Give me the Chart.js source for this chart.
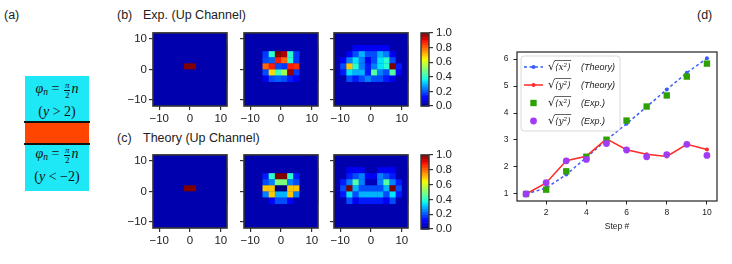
<!DOCTYPE html>
<html>
<head>
<meta charset="utf-8">
<script src="https://cdn.jsdelivr.net/npm/chart.js@4.4.1/dist/chart.umd.min.js"></script>
<style>
  body { margin: 0; background: #fff; }
  #fig { position: relative; width: 732px; height: 264px; overflow: hidden;
         font-family: "Liberation Sans", Arial, sans-serif; color: #222; }
  canvas { position: absolute; }
  .lbl { position: absolute; font-size: 12.5px; white-space: nowrap; line-height: 14px; }
  .cyan { position: absolute; left: 25px; width: 64px; background: #1fe8f6; }
  .bar { position: absolute; left: 24px; width: 66px; height: 2px; background: #111; }
  .eq { position: absolute; left: 0; width: 64px; text-align: center; white-space: nowrap;
        font-family: "Liberation Serif", "DejaVu Serif", serif; font-size: 14px; color: #111; line-height: 16px; }
  .eq sub { font-size: 9.5px; vertical-align: -2px; font-style: italic; }
  .frac { display: inline-block; vertical-align: middle; text-align: center; font-size: 9px; line-height: 8.5px; margin: 0 1px; }
  .frac span { display: block; }
  .frac span:first-child { border-bottom: 0.8px solid #111; padding: 0 1px; font-style: italic; }
</style>
</head>
<body>
<div id="fig">
  <!-- panel (a): schematic -->
  <div class="lbl" style="left:4px;top:8px">(a)</div>
  <div class="cyan" style="top:76px;height:46px">
    <div class="eq" style="top:5px"><i>φ</i><sub>n</sub> = <span class="frac"><span>π</span><span>2</span></span><i>n</i></div>
    <div class="eq" style="top:28px">(<i>y</i> &gt; 2)</div>
  </div>
  <div class="bar" style="top:121px"></div>
  <div style="position:absolute;left:25px;top:123px;width:64px;height:20px;background:#ff4500"></div>
  <div class="bar" style="top:143px"></div>
  <div class="cyan" style="top:145px;height:46px">
    <div class="eq" style="top:1px"><i>φ</i><sub>n</sub> = <span class="frac"><span>π</span><span>2</span></span><i>n</i></div>
    <div class="eq" style="top:24px">(<i>y</i> &lt; −2)</div>
  </div>

  <div class="lbl" style="left:117px;top:8px">(b)</div>
  <div class="lbl" style="left:143px;top:8px">Exp. (Up Channel)</div>
  <div class="lbl" style="left:117px;top:131px">(c)</div>
  <div class="lbl" style="left:143px;top:131px">Theory (Up Channel)</div>
  <div class="lbl" style="left:697px;top:8px">(d)</div>

  <canvas id="b1"></canvas><canvas id="b2"></canvas><canvas id="b3"></canvas><canvas id="bc"></canvas>
  <canvas id="c1"></canvas><canvas id="c2"></canvas><canvas id="c3"></canvas><canvas id="cc"></canvas>
  <canvas id="d"></canvas>
</div>

<script>
// ---- heatmap lattice (cells are 2x2 units, centres on odd coordinates) ----
const colsX = [-11, -9, -7, -5, -3, -1, 1, 3, 5, 7, 9, 11];
const rowsY = [7, 5, 3, 1, -1, -3];
const heatTicks = [-10, 0, 10];
const bgLevel = 0.04; // level of the empty lattice

// probability maps, one row per rowsY entry, one value per colsX entry
const expStep1 = [
  [.04, .04, .04, .04, .04, .04, .04, .04, .04, .04, .04, .04],
  [.04, .04, .04, .04, .04, .04, .04, .04, .04, .04, .04, .04],
  [.04, .04, .04, .04, .04, .04, .04, .04, .04, .04, .04, .04],
  [.04, .04, .04, .04, .04, 1.0, 1.0, .04, .04, .04, .04, .04],
  [.04, .04, .04, .04, .04, .04, .04, .04, .04, .04, .04, .04],
  [.04, .04, .04, .04, .04, .04, .04, .04, .04, .04, .04, .04]
];
const expStep2 = [
  [.04, .04, .04, .04, .04, .04, .04, .04, .04, .04, .04, .04],
  [.04, .04, .04, .18, .40, 1.0, .96, .40, .18, .04, .04, .04],
  [.04, .04, .04, .20, .22, .88, .80, .40, .18, .04, .04, .04],
  [.04, .04, .04, .80, .88, .20, .18, .88, .86, .04, .04, .04],
  [.04, .04, .04, .20, .68, .42, .55, .98, .18, .04, .04, .04],
  [.04, .04, .04, .10, .20, .22, .20, .15, .10, .04, .04, .04]
];
const expStep3 = [
  [.04, .04, .04, .10, .10, .10, .10, .10, .10, .04, .04, .04],
  [.04, .04, .12, .20, .30, .20, .20, .30, .25, .10, .04, .04],
  [.04, .12, .25, .35, .25, .10, .20, .35, .40, .20, .04, .04],
  [.04, .20, .70, .40, .25, .15, .25, .35, .40, 1.0, .15, .04],
  [.04, .15, .35, .30, .30, .15, .45, .25, .20, .45, .10, .04],
  [.04, .04, .20, .15, .20, .25, .20, .20, .15, .10, .04, .04]
];
const theoryStep1 = expStep1;
const theoryStep2 = [
  [.04, .04, .04, .04, .04, .04, .04, .04, .04, .04, .04, .04],
  [.04, .04, .04, .15, .40, 1.0, 1.0, .40, .15, .04, .04, .04],
  [.04, .04, .04, .20, .25, .50, .50, .25, .20, .04, .04, .04],
  [.04, .04, .04, .70, .70, 0.0, 0.0, .70, .70, .04, .04, .04],
  [.04, .04, .04, .25, .70, .30, .30, .70, .25, .04, .04, .04],
  [.04, .04, .04, .04, .12, .20, .20, .12, .04, .04, .04, .04]
];
const theoryStep3 = [
  [.04, .04, .10, .10, .10, .04, .04, .10, .10, .10, .04, .04],
  [.04, .04, .15, .20, .25, .10, .10, .25, .20, .15, .04, .04],
  [.04, .15, .25, .45, .25, .05, .05, .25, .45, .25, .15, .04],
  [.04, .20, 1.0, .30, .20, .20, .20, .20, .30, 1.0, .20, .04],
  [.04, .15, .35, .20, .30, .30, .30, .30, .20, .35, .15, .04],
  [.04, .04, .20, .10, .15, .15, .15, .15, .10, .20, .04, .04]
];
const cbarTicks = [0, 0.2, 0.4, 0.6, 0.8, 1.0];

// ---- panel (d) ----
const stepNo = [1, 2, 3, 4, 5, 6, 7, 8, 9, 10];
const theoryX = [1.0, 1.22, 1.72, 2.35, 3.0, 3.6, 4.23, 4.87, 5.49, 6.03];
const theoryY = [1.0, 1.41, 2.23, 2.40, 3.04, 2.64, 2.47, 2.39, 2.84, 2.65];
const measX = [1.0, 1.16, 1.84, 2.38, 3.01, 3.72, 4.24, 4.65, 5.35, 5.83];
const measY = [1.0, 1.42, 2.23, 2.28, 2.87, 2.63, 2.38, 2.46, 2.84, 2.43];
const stepTicks = [2, 4, 6, 8, 10];
const rmsTicks = [1, 2, 3, 4, 5, 6];

// matplotlib "jet"
const JR = [[0, 0], [0.35, 0], [0.66, 1], [0.89, 1], [1, 0.5]];
const JG = [[0, 0], [0.125, 0], [0.375, 1], [0.64, 1], [0.91, 0], [1, 0]];
const JB = [[0, 0.5], [0.11, 1], [0.34, 1], [0.65, 0], [1, 0]];
function seg(pts, v) {
  for (let i = 1; i < pts.length; i++) {
    if (v <= pts[i][0]) {
      const [x0, y0] = pts[i - 1], [x1, y1] = pts[i];
      return y0 + (y1 - y0) * (v - x0) / (x1 - x0);
    }
  }
  return pts[pts.length - 1][1];
}
function jet(v) {
  v = Math.max(0, Math.min(1, v));
  return `rgb(${Math.round(255 * seg(JR, v))},${Math.round(255 * seg(JG, v))},${Math.round(255 * seg(JB, v))})`;
}

const FONT = "'Liberation Sans', Arial, sans-serif";
const AX = '#333';

const heatPlugin = {
  id: 'heat',
  beforeDatasetsDraw(chart, args, opts) {
    const { ctx, chartArea: a, scales: { x, y } } = chart;
    ctx.save();
    ctx.fillStyle = jet(bgLevel);
    ctx.fillRect(a.left, a.top, a.width, a.height);
    opts.matrix.forEach((row, r) => row.forEach((v, c) => {
      const x0 = x.getPixelForValue(colsX[c] - 1), x1 = x.getPixelForValue(colsX[c] + 1);
      const y0 = y.getPixelForValue(rowsY[r] + 1), y1 = y.getPixelForValue(rowsY[r] - 1);
      ctx.fillStyle = jet(v);
      ctx.fillRect(x0, y0, x1 - x0 + 0.3, y1 - y0 + 0.3);
    }));
    ctx.restore();
  },
  afterDraw(chart) {
    const { ctx, chartArea: a } = chart;
    ctx.save();
    ctx.strokeStyle = AX;
    ctx.lineWidth = 1.6;
    ctx.strokeRect(a.left, a.top, a.width, a.height);
    ctx.restore();
  }
};

function placeCanvas(id, left, top, w, h) {
  const cv = document.getElementById(id);
  cv.width = w; cv.height = h;
  cv.style.left = left + 'px'; cv.style.top = top + 'px';
  cv.style.width = w + 'px'; cv.style.height = h + 'px';
  return cv;
}

function heatmap(id, matrix, plotLeft, plotTop, showY) {
  const cv = placeCanvas(id, plotLeft - 33, plotTop - 8, 113, 104);
  const tickFont = { family: FONT, size: 11.5 };
  new Chart(cv, {
    type: 'scatter',
    data: { datasets: [{ data: [] }] },
    options: {
      responsive: false, animation: false, events: [],
      layout: { padding: { left: 0, top: 8, right: 6, bottom: 0 } },
      plugins: { legend: { display: false }, tooltip: { enabled: false }, heat: { matrix } },
      scales: {
        x: {
          min: -12, max: 12,
          afterBuildTicks: s => { s.ticks = heatTicks.map(v => ({ value: v })); },
          afterFit: s => { s.height = 22; },
          grid: { drawOnChartArea: false, color: AX, tickLength: 4, lineWidth: 1.2 },
          border: { display: false },
          ticks: { font: tickFont, color: '#222', padding: 2, maxRotation: 0, autoSkip: false,
                   callback: v => String(v).replace('-', '−') }
        },
        y: {
          min: -12, max: 12,
          afterBuildTicks: s => { s.ticks = heatTicks.map(v => ({ value: v })); },
          afterFit: s => { s.width = 33; },
          grid: { drawOnChartArea: false, color: AX, tickLength: 4, lineWidth: 1.2 },
          border: { display: false },
          ticks: { font: tickFont, color: '#222', padding: 2, autoSkip: false,
                   callback: v => showY ? String(v).replace('-', '−') : '' }
        }
      }
    },
    plugins: [heatPlugin]
  });
}

const cbarPlugin = {
  id: 'cbar',
  beforeDatasetsDraw(chart) {
    const { ctx, chartArea: a, scales: { y } } = chart;
    ctx.save();
    const n = 100;
    for (let i = 0; i < n; i++) {
      const v0 = i / n, v1 = (i + 1) / n;
      const p0 = y.getPixelForValue(v0), p1 = y.getPixelForValue(v1);
      ctx.fillStyle = jet((v0 + v1) / 2);
      ctx.fillRect(a.left, p1, a.width, p0 - p1 + 0.5);
    }
    ctx.strokeStyle = AX;
    ctx.lineWidth = 1.4;
    ctx.strokeRect(a.left, a.top, a.width, a.height);
    ctx.restore();
  }
};

function colorbar(id, plotTop, plotBottom) {
  const h = plotBottom - plotTop;
  const cv = placeCanvas(id, 415, plotTop - 8, 55, h + 18);
  new Chart(cv, {
    type: 'scatter',
    data: { datasets: [{ data: [] }] },
    options: {
      responsive: false, animation: false, events: [],
      layout: { padding: { left: 6, top: 8, right: 0, bottom: 10 } },
      plugins: { legend: { display: false }, tooltip: { enabled: false } },
      scales: {
        x: { display: false, min: 0, max: 1 },
        y: {
          position: 'right', min: 0, max: 1,
          afterBuildTicks: s => { s.ticks = cbarTicks.map(v => ({ value: v })); },
          afterFit: s => { s.width = 41; },
          grid: { drawOnChartArea: false, color: AX, tickLength: 4, lineWidth: 1.2 },
          border: { display: false },
          ticks: { font: { family: FONT, size: 11.5 }, color: '#222', padding: 3, autoSkip: false,
                   callback: v => v.toFixed(1) }
        }
      }
    },
    plugins: [cbarPlugin]
  });
}

heatmap('b1', expStep1, 153, 32, true);
heatmap('b2', expStep2, 244, 32, false);
heatmap('b3', expStep3, 334, 32, false);
colorbar('bc', 31, 106);
heatmap('c1', theoryStep1, 153, 154, true);
heatmap('c2', theoryStep2, 244, 154, false);
heatmap('c3', theoryStep3, 334, 154, false);
colorbar('cc', 153, 229);

// ---- panel (d) ----
const legendLabels = [
  ['x', '(Theory)'], ['y', '(Theory)'], ['x', '(Exp.)'], ['y', '(Exp.)']
];

const frameAndLegend = {
  id: 'frameAndLegend',
  afterDraw(chart) {
    const { ctx, chartArea: a } = chart;
    ctx.save();
    ctx.strokeStyle = '#222';
    ctx.lineWidth = 1.2;
    ctx.strokeRect(a.left, a.top, a.width, a.height);

    const bx = a.left + 4, by = a.top + 4, bw = 99, bh = 75;
    ctx.beginPath();
    ctx.roundRect(bx, by, bw, bh, 3);
    ctx.fillStyle = 'rgba(255,255,255,0.85)';
    ctx.fill();
    ctx.strokeStyle = '#d0d0d0';
    ctx.lineWidth = 0.8;
    ctx.stroke();

    chart.data.datasets.forEach((ds, i) => {
      const cy = by + 11 + i * 18;
      if (ds.showLine !== false) {
        ctx.beginPath();
        ctx.setLineDash(ds.borderDash || []);
        ctx.strokeStyle = ds.borderColor;
        ctx.lineWidth = ds.borderWidth;
        ctx.moveTo(bx + 3, cy);
        ctx.lineTo(bx + 22, cy);
        ctx.stroke();
        ctx.setLineDash([]);
      }
      ctx.fillStyle = ds.pointBackgroundColor;
      ctx.strokeStyle = ds.pointBackgroundColor;
      Chart.helpers.drawPoint(ctx, { pointStyle: ds.pointStyle, radius: ds.pointRadius, rotation: 0, borderWidth: 0 }, bx + 12.5, cy);

      // sqrt<v^2> label
      const [v, tag] = legendLabels[i];
      let tx = bx + 27;
      ctx.fillStyle = '#222';
      ctx.strokeStyle = '#222';
      ctx.textBaseline = 'middle';
      ctx.font = `11px 'DejaVu Sans', sans-serif`;
      ctx.fillText('√', tx, cy);
      tx += 7;
      ctx.font = `italic 9px 'DejaVu Serif', serif`;
      const body = '⟨' + v + '²⟩';
      ctx.fillText(body, tx, cy + 0.5);
      const bwid = ctx.measureText(body).width;
      ctx.lineWidth = 0.7;
      ctx.beginPath();
      ctx.moveTo(tx - 0.5, cy - 6.5);
      ctx.lineTo(tx + bwid + 0.5, cy - 6.5);
      ctx.stroke();
      ctx.font = `italic 9px ${FONT}`;
      ctx.fillText(tag, bx + 60, cy);
    });
    ctx.restore();
  }
};

const dCv = placeCanvas('d', 480, 40, 252, 200);
new Chart(dCv, {
  type: 'line',
  data: {
    labels: stepNo,
    datasets: [
      { data: stepNo.map((s, i) => ({ x: s, y: theoryX[i] })), borderColor: '#3a5cff', borderWidth: 1.5,
        borderDash: [3, 2.5], pointRadius: 2, pointStyle: 'circle', pointBackgroundColor: '#3a5cff',
        pointBorderWidth: 0, order: 4 },
      { data: stepNo.map((s, i) => ({ x: s, y: theoryY[i] })), borderColor: '#ff2a2a', borderWidth: 1.5,
        pointRadius: 2, pointStyle: 'circle', pointBackgroundColor: '#ff2a2a', pointBorderWidth: 0, order: 3 },
      { data: stepNo.map((s, i) => ({ x: s, y: measX[i] })), showLine: false, pointStyle: 'rect',
        pointRadius: 4.5, pointBackgroundColor: '#2ea000', pointBorderWidth: 0, borderColor: '#2ea000', order: 2 },
      { data: stepNo.map((s, i) => ({ x: s, y: measY[i] })), showLine: false, pointStyle: 'circle',
        pointRadius: 3.4, pointBackgroundColor: '#a03cf5', pointBorderWidth: 0, borderColor: '#a03cf5', order: 1 }
    ]
  },
  options: {
    responsive: false, animation: false, events: [],
    layout: { padding: { left: 0, top: 12, right: 15, bottom: 8 } },
    plugins: { legend: { display: false }, tooltip: { enabled: false } },
    scales: {
      x: {
        type: 'linear', min: 0.55, max: 10.5,
        afterBuildTicks: s => { s.ticks = stepTicks.map(v => ({ value: v })); },
        afterFit: s => { s.height = 31; },
        grid: { drawOnChartArea: false, color: '#222', tickLength: 3.5 },
        border: { display: false },
        ticks: { font: { family: FONT, size: 8.5 }, color: '#222', padding: 3, maxRotation: 0, autoSkip: false },
        title: { display: true, text: 'Step #', font: { family: FONT, size: 8.5 }, color: '#222', padding: { top: 0, bottom: 0 } }
      },
      y: {
        min: 0.74, max: 6.26,
        afterBuildTicks: s => { s.ticks = rmsTicks.map(v => ({ value: v })); },
        afterFit: s => { s.width = 37; },
        grid: { drawOnChartArea: false, color: '#222', tickLength: 3.5 },
        border: { display: false },
        ticks: { font: { family: FONT, size: 8.5 }, color: '#222', padding: 5, autoSkip: false }
      }
    }
  },
  plugins: [frameAndLegend]
});
</script>
</body>
</html>
